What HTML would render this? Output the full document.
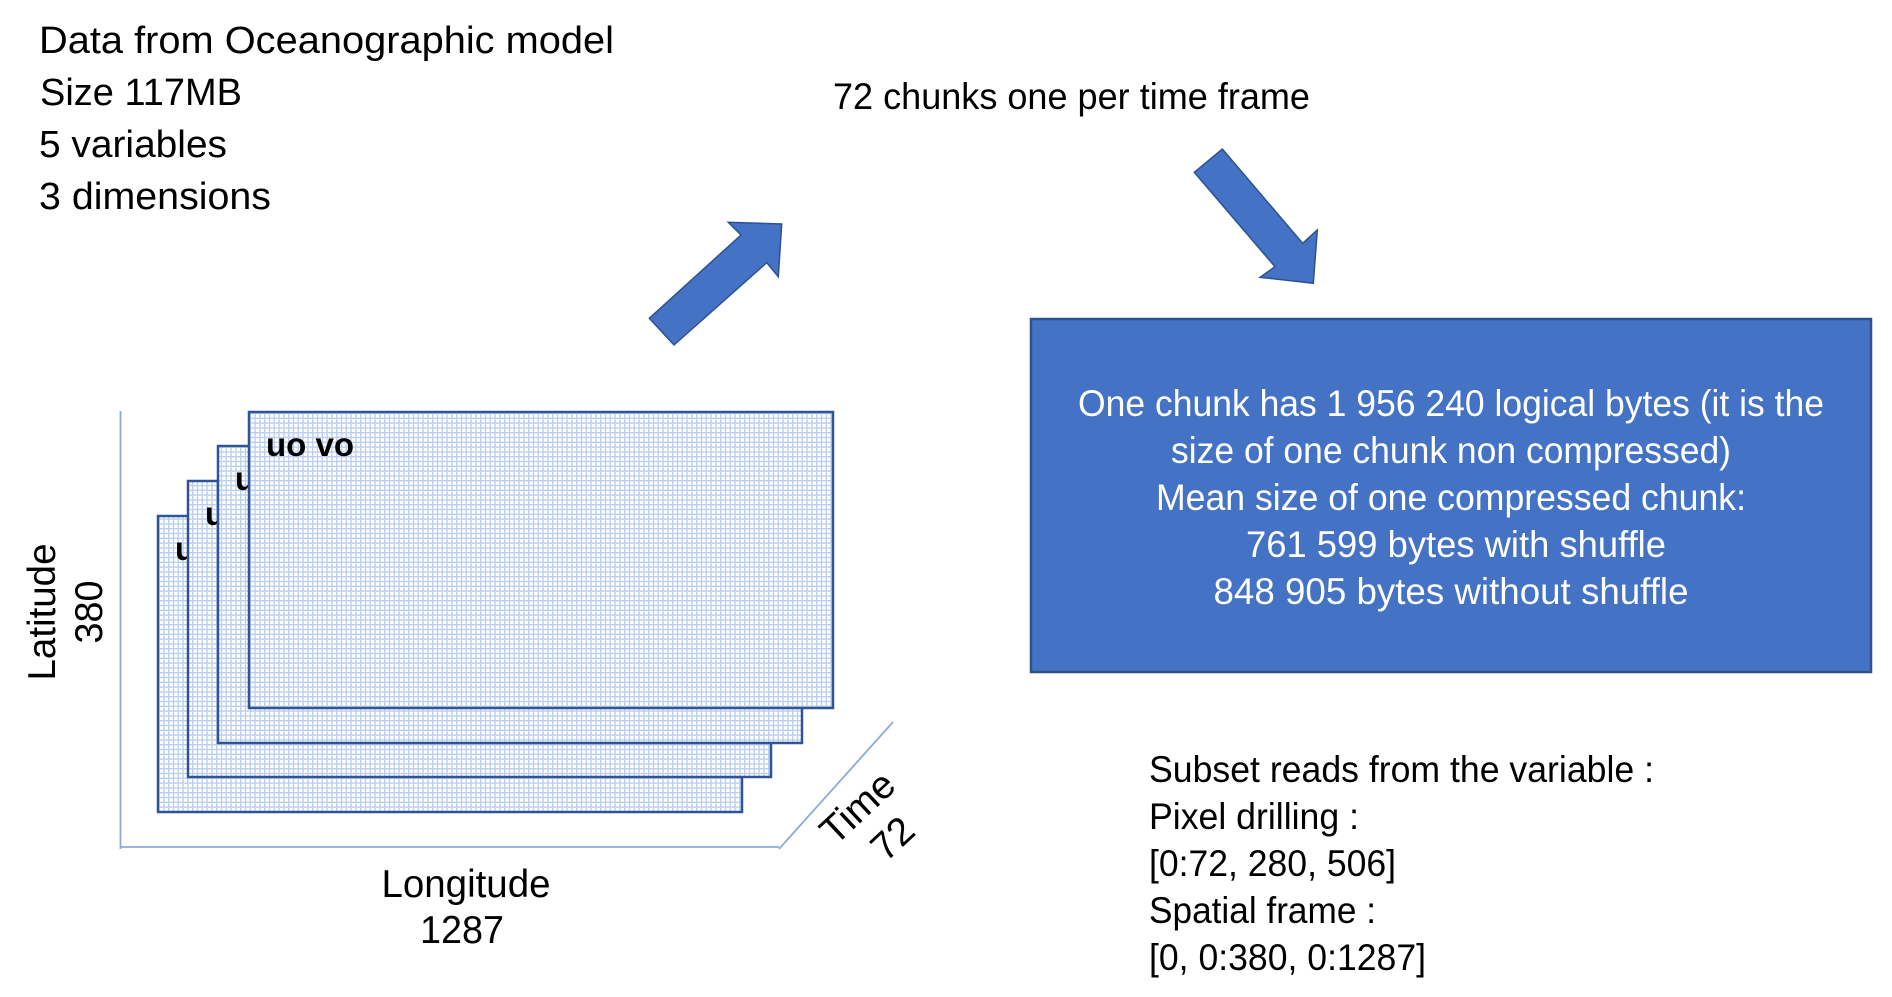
<!DOCTYPE html>
<html>
<head>
<meta charset="utf-8">
<style>
  html, body { margin: 0; padding: 0; background: #ffffff; }
  body { width: 1892px; height: 997px; overflow: hidden; }
  svg { display: block; }
  text { font-family: "Liberation Sans", Arial, sans-serif; }
</style>
</head>
<body>
<svg width="1892" height="997" viewBox="0 0 1892 997" xmlns="http://www.w3.org/2000/svg">
  <defs>
    <pattern id="grid" x="0" y="0" width="4.8" height="4.8" patternUnits="userSpaceOnUse">
      <rect x="0" y="0" width="4.8" height="4.8" fill="#ffffff"/>
      <path d="M0 0.7 H4.8 M0.7 0 V4.8" stroke="#bfd0ee" stroke-width="1.4" fill="none"/>
    </pattern>
  </defs>

  <rect x="0" y="0" width="1892" height="997" fill="#ffffff"/>

  <!-- Top-left description -->
  <g font-size="38" fill="#000">
    <text x="39" y="53" textLength="575" lengthAdjust="spacingAndGlyphs">Data from Oceanographic model</text>
    <text x="40" y="105" textLength="202" lengthAdjust="spacingAndGlyphs">Size 117MB</text>
    <text x="39" y="157" textLength="188" lengthAdjust="spacingAndGlyphs">5 variables</text>
    <text x="39" y="209" textLength="232" lengthAdjust="spacingAndGlyphs">3 dimensions</text>
  </g>

  <!-- Title -->
  <text x="833" y="109" font-size="37" fill="#000" textLength="477" lengthAdjust="spacingAndGlyphs">72 chunks one per time frame</text>

  <!-- Arrow 1 (up-right) -->
  <polygon points="649.3,318.3 741,235 728.3,222.3 781.7,224 778.3,276.7 766.7,262.7 674,345"
           fill="#4472c4" stroke="#2f528f" stroke-width="1.5" stroke-linejoin="miter"/>

  <!-- Arrow 2 (down-right) -->
  <polygon points="1222.3,149 1302.7,243.3 1317.3,230 1313.3,283.3 1260,277.3 1275,266.7 1194.3,172.3"
           fill="#4472c4" stroke="#2f528f" stroke-width="1.5" stroke-linejoin="miter"/>

  <!-- Blue box -->
  <rect x="1031" y="319" width="840" height="353" fill="#4472c4" stroke="#2f528f" stroke-width="2.5"/>
  <g font-size="37" fill="#ffffff" text-anchor="middle">
    <text x="1451" y="416" textLength="746" lengthAdjust="spacingAndGlyphs">One chunk has 1 956 240 logical bytes (it is the</text>
    <text x="1451" y="463" textLength="560" lengthAdjust="spacingAndGlyphs">size of one chunk non compressed)</text>
    <text x="1451" y="510" textLength="590" lengthAdjust="spacingAndGlyphs">Mean size of one compressed chunk:</text>
    <text x="1456" y="557" textLength="420" lengthAdjust="spacingAndGlyphs">761 599 bytes with shuffle</text>
    <text x="1451" y="604" textLength="475" lengthAdjust="spacingAndGlyphs">848 905 bytes without shuffle</text>
  </g>

  <!-- Bottom-right subset text -->
  <g font-size="37" fill="#000">
    <text x="1149" y="782" textLength="505" lengthAdjust="spacingAndGlyphs">Subset reads from the variable :</text>
    <text x="1149" y="829" textLength="210" lengthAdjust="spacingAndGlyphs">Pixel drilling :</text>
    <text x="1149" y="876" textLength="247" lengthAdjust="spacingAndGlyphs">[0:72, 280, 506]</text>
    <text x="1149" y="923" textLength="227" lengthAdjust="spacingAndGlyphs">Spatial frame :</text>
    <text x="1149" y="970" textLength="277" lengthAdjust="spacingAndGlyphs">[0, 0:380, 0:1287]</text>
  </g>

  <!-- Axes -->
  <g stroke="#8eaadb" stroke-width="1.8" fill="none">
    <line x1="120.5" y1="411" x2="120.5" y2="849"/>
    <line x1="120" y1="847" x2="779" y2="847"/>
    <line x1="779" y1="849" x2="893" y2="722"/>
  </g>

  <!-- Stacked frames -->
  <g stroke="#2f5597" stroke-width="2.5">
    <rect x="158" y="516" width="584" height="296" fill="url(#grid)"/>
    <text x="175" y="560" font-size="33" font-weight="bold" fill="#000" stroke="none" textLength="88" lengthAdjust="spacingAndGlyphs">uo vo</text>

    <rect x="188" y="481" width="583" height="296" fill="url(#grid)"/>
    <text x="205" y="525" font-size="33" font-weight="bold" fill="#000" stroke="none" textLength="88" lengthAdjust="spacingAndGlyphs">uo vo</text>

    <rect x="218" y="446" width="584" height="297" fill="url(#grid)"/>
    <text x="235" y="490" font-size="33" font-weight="bold" fill="#000" stroke="none" textLength="88" lengthAdjust="spacingAndGlyphs">uo vo</text>

    <rect x="249" y="412" width="584" height="296" fill="url(#grid)"/>
    <text x="266" y="456" font-size="33" font-weight="bold" fill="#000" stroke="none" textLength="88" lengthAdjust="spacingAndGlyphs">uo vo</text>
  </g>

  <!-- Axis labels -->
  <g font-size="39" fill="#000">
    <text transform="translate(55,612) rotate(-90)" x="0" y="0" text-anchor="middle" textLength="137" lengthAdjust="spacingAndGlyphs">Latitude</text>
    <text transform="translate(102,612) rotate(-90)" x="0" y="0" text-anchor="middle" textLength="63" lengthAdjust="spacingAndGlyphs">380</text>
    <text x="466" y="897" text-anchor="middle" textLength="169" lengthAdjust="spacingAndGlyphs">Longitude</text>
    <text x="462" y="943" text-anchor="middle" textLength="84" lengthAdjust="spacingAndGlyphs">1287</text>
    <text transform="translate(857,807) rotate(-43)" x="0" y="14" text-anchor="middle" textLength="86" lengthAdjust="spacingAndGlyphs">Time</text>
    <text transform="translate(892,838) rotate(-43)" x="0" y="14" text-anchor="middle" textLength="43" lengthAdjust="spacingAndGlyphs">72</text>
  </g>
</svg>
</body>
</html>
